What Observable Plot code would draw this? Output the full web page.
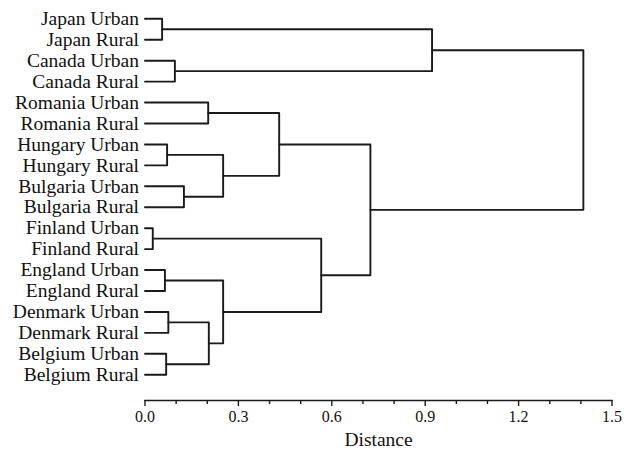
<!DOCTYPE html>
<html><head><meta charset="utf-8">
<script src="https://cdn.jsdelivr.net/npm/d3@7"></script>
<script src="https://cdn.jsdelivr.net/npm/@observablehq/plot@0.6"></script>
<style>body{margin:0;background:#fff}</style>
</head><body><div id="chart"></div>
<script>
// Leaves, top to bottom
const leaves = [
  "Japan Urban","Japan Rural","Canada Urban","Canada Rural",
  "Romania Urban","Romania Rural","Hungary Urban","Hungary Rural",
  "Bulgaria Urban","Bulgaria Rural","Finland Urban","Finland Rural",
  "England Urban","England Rural","Denmark Urban","Denmark Rural",
  "Belgium Urban","Belgium Rural"
];
// Merges (children listed before parents)
const clusterNames = ["Japan","Canada","Romania","Hungary","Bulgaria","HuBu","RoHuBu",
  "Finland","England","Denmark","Belgium","DeBe","EnDeBe","FiEnDeBe","EastWest","JaCa","Root"];
const clusterLeft = ["Japan Urban","Canada Urban","Romania Urban","Hungary Urban","Bulgaria Urban","Hungary","Romania",
  "Finland Urban","England Urban","Denmark Urban","Belgium Urban","Denmark","England","Finland","RoHuBu","Japan","JaCa"];
const clusterRight = ["Japan Rural","Canada Rural","Romania Rural","Hungary Rural","Bulgaria Rural","Bulgaria","HuBu",
  "Finland Rural","England Rural","Denmark Rural","Belgium Rural","Belgium","DeBe","EnDeBe","FiEnDeBe","Canada","EastWest"];
const clusterDistance = [0.055,0.096,0.203,0.071,0.125,0.251,0.431,
  0.025,0.064,0.075,0.068,0.205,0.251,0.566,0.724,0.922,1.408];

const majorTicks = [0.0,0.3,0.6,0.9,1.2,1.5];
const minorTicks = [0.1,0.2,0.4,0.5,0.7,0.8,1.0,1.1,1.3,1.4];
const axisTitle = "Distance";

// build node positions from the data
const pos = new Map();
leaves.forEach((name, i) => pos.set(name, {x: 0, y: i}));
const segments = [];
clusterNames.forEach((name, k) => {
  const a = pos.get(clusterLeft[k]), b = pos.get(clusterRight[k]);
  const h = clusterDistance[k];
  segments.push({id: name, x: a.x, y: a.y}, {id: name, x: h, y: a.y},
                {id: name, x: h, y: b.y}, {id: name, x: b.x, y: b.y});
  pos.set(name, {x: h, y: (a.y + b.y) / 2});
});
const leafData = leaves.map((name, i) => ({name, i, d: 0}));

const chart = Plot.plot({
  width: 632, height: 450,
  marginLeft: 144.5, marginRight: 20.5, marginTop: 18.3, marginBottom: 50,
  x: {domain: [0, 1.5]},
  y: {domain: [0, 18.23], reverse: true, axis: null},
  style: {fontFamily: "'Liberation Serif', 'Times New Roman', serif", fontSize: "16px", color: "#111", background: "#fff"},
  marks: [
    Plot.frame({anchor: "bottom", stroke: "#1a1a1a", strokeWidth: 1.4}),
    Plot.axisX({ticks: minorTicks, tickSize: 4, tickFormat: () => "", label: null, strokeWidth: 1.4, stroke: "#1a1a1a"}),
    Plot.axisX({ticks: majorTicks, tickSize: 6, tickPadding: 4, tickFormat: d => d.toFixed(1), label: null, strokeWidth: 1.4, stroke: "#1a1a1a", fontSize: 16}),
    Plot.text([axisTitle], {frameAnchor: "bottom", dy: 45, lineAnchor: "bottom", fontSize: 19.5, fill: "#111"}),
    Plot.line(segments, {x: "x", y: "y", z: "id", stroke: "#1a1a1a", strokeWidth: 1.9}),
    Plot.text(leafData, {x: "d", y: "i", text: "name", textAnchor: "end", dx: -6, fontSize: 19.5, fill: "#111"})
  ]
});
document.getElementById("chart").appendChild(chart);
</script>
</body></html>
